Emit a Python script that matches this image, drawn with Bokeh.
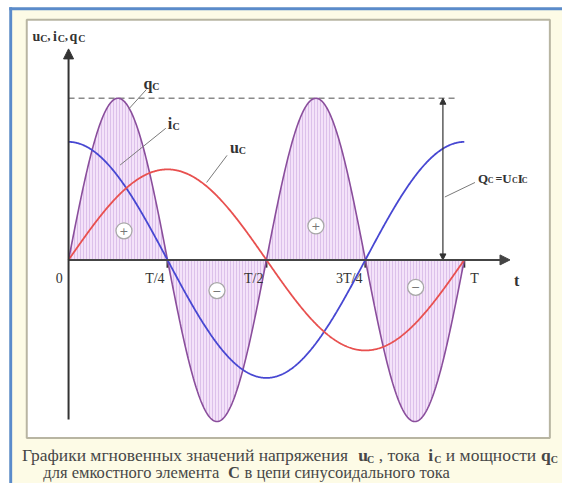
import numpy as np
from bokeh.plotting import figure
from bokeh.models import Range1d, Label, Arrow, NormalHead
from bokeh.embed import file_html
from bokeh.resources import INLINE

# ---------------- data ----------------
PERIOD = 1.0            # T
U_AMP = 0.56            # amplitude of u_C (relative)
I_AMP = 0.73            # amplitude of i_C (relative)
Q_AMP = 1.0             # amplitude of q_C (relative)
tick_pos = [0.25, 0.5, 0.75, 1.0]
tick_labels = ["T/4", "T/2", "3T/4", "T"]
sign_t = [0.14, 0.375, 0.625, 0.877]
sign_y = [0.18, -0.19, 0.21, -0.17]
sign_text = ["+", "\u2212", "+", "\u2212"]

# ---------------- helpers (reference pixel -> data) ----------------
def X(px):
    return (px - 70) / 407.0

def Y(py):
    return (268 - py) / 167.0

CREAM = "#fdfbe6"
SERIF = "Liberation Serif"

p = figure(width=562, height=483,
           x_range=Range1d(X(0), X(578)), y_range=Range1d(Y(499), Y(0)),
           x_axis_type=None, y_axis_type=None,
           output_backend="svg", toolbar_location=None,
           min_border=0, min_border_left=0, min_border_right=0,
           min_border_top=0, min_border_bottom=0,
           background_fill_color="white", border_fill_color="white",
           outline_line_color=None)
p.grid.visible = False

# frame decorations
p.quad(left=[X(9)], right=[X(578)], top=[Y(7)], bottom=[Y(499)],
       fill_color=CREAM, line_color=None)
p.quad(left=[X(9)], right=[X(12)], top=[Y(7)], bottom=[Y(499)],
       fill_color="#5a8bcb", line_color=None)
p.quad(left=[X(9)], right=[X(578)], top=[Y(7)], bottom=[Y(10)],
       fill_color="#5a8bcb", line_color=None)
p.quad(left=[X(27)], right=[X(565)], top=[Y(20)], bottom=[Y(452)],
       fill_color="white", line_color="#b8b5a2", line_width=2)

# curves
t = np.linspace(0, PERIOD, 600)
w = 2 * np.pi / PERIOD
u = U_AMP * np.sin(w * t)
i = I_AMP * np.cos(w * t)
q = Q_AMP * np.sin(2 * w * t)

p.varea(x=t, y1=np.zeros_like(t), y2=q, fill_color="#f4e2f9",
        hatch_pattern="vertical_line", hatch_color="#dcc0ea",
        hatch_scale=3, hatch_weight=1)

# dashed max line and double arrow
p.line([0, X(470)], [Q_AMP, Q_AMP], line_color="#8a8a8a", line_width=1.5,
       line_dash="6 4")
p.add_layout(Arrow(start=NormalHead(size=6, fill_color="#333", line_color="#333"),
                   end=NormalHead(size=6, fill_color="#333", line_color="#333"),
                   x_start=X(455), y_start=0, x_end=X(455), y_end=Q_AMP,
                   line_color="#333", line_width=1.2))

# axes
p.add_layout(Arrow(end=NormalHead(size=10, fill_color="#444", line_color="#444"),
                   x_start=0, y_start=0, x_end=X(524), y_end=0,
                   line_color="#444", line_width=2))
p.add_layout(Arrow(end=NormalHead(size=10, fill_color="#333", line_color="#333"),
                   x_start=0, y_start=Y(433), x_end=0, y_end=Y(50),
                   line_color="#333", line_width=2))
p.segment(x0=tick_pos, y0=[0] * 4, x1=tick_pos, y1=[Y(276)] * 4,
          line_color="#333", line_width=2)

p.line(t, q, line_color="#8a4e9c", line_width=1.6)
p.line(t, i, line_color="#4747d2", line_width=1.8)
p.line(t, u, line_color="#e8504f", line_width=1.8)

# sign circles
p.scatter(sign_t, sign_y, size=16, marker="circle", fill_color="white",
          line_color="#a8a8a8", line_width=1.3)
for st, sy, s in zip(sign_t, sign_y, sign_text):
    p.add_layout(Label(x=st, y=sy, text=s, text_align="center",
                       text_baseline="middle", text_font="DejaVu Sans",
                       text_font_size="11px", text_color="#777"))


def lab(px, py, s, size, bold=True, color="#333", align="left", font=SERIF):
    p.add_layout(Label(x=X(px), y=Y(py), text=s, text_font=font,
                       text_font_size=f"{size}px",
                       text_font_style="bold" if bold else "normal",
                       text_color=color, text_align=align,
                       text_baseline="alphabetic"))

# leader lines
p.segment(x0=[X(150), X(170), X(233), X(488)], y0=[Y(92), Y(132), Y(160), Y(188)],
          x1=[X(132), X(123), X(212), X(457)], y1=[Y(112), Y(170), Y(188), Y(203)],
          line_color="#7a7a7a", line_width=1)

# curve labels
lab(147, 86, "q", 16); lab(156, 89, "C", 10)
lab(172, 127, "i", 16); lab(177, 130, "C", 10)
lab(236, 152, "u", 16); lab(245, 155, "C", 10)

# axis title
lab(33, 37, "u", 14); lab(41, 39, "C", 10); lab(48, 37, ",", 13)
lab(54, 37, "i", 14); lab(59, 39, "C", 10); lab(66, 37, ",", 13)
lab(71, 37, "q", 14); lab(80, 39, "C", 10)

# Q label
lab(491, 184, "Q", 13); lab(501, 186, "C", 8)
lab(509, 184, "=", 12)
lab(516, 184, "U", 13); lab(526, 186, "C", 8)
lab(532, 184, "I", 13); lab(536, 186, "C", 8)

# tick labels
for tp, tl in zip(tick_pos, tick_labels):
    if tl == "T":
        lab(70 + tp * 407 + 6, 287, tl, 14, bold=False, color="#333")
    else:
        lab(70 + tp * 407 - 3, 287, tl, 14, bold=False, color="#333", align="right")
lab(64, 287, "0", 14, bold=False, color="#333", align="right")
lab(528, 289, "t", 16)

# caption
CAP = "#474747"
FS = 17.5
lab(22, 470, "Графики мгновенных значений напряжения", FS, bold=False, color=CAP)
lab(368, 470, "u", FS, color=CAP); lab(377, 474, "C", 10, color=CAP)
lab(389, 470, ", тока", FS, bold=False, color=CAP)
lab(440, 470, "i", FS, color=CAP); lab(446, 474, "C", 10, color=CAP)
lab(458, 470, "и мощности", FS, bold=False, color=CAP)
lab(556, 470, "q", FS, color=CAP); lab(566, 474, "C", 10, color=CAP)
lab(44, 488, "для емкостного элемента", 16.5, bold=False, color=CAP)
lab(234, 488, "C", 16.5, color=CAP)
lab(251, 488, "в цепи синусоидального тока", 16.5, bold=False, color=CAP)

open("out.html", "w").write(file_html(p, INLINE))
